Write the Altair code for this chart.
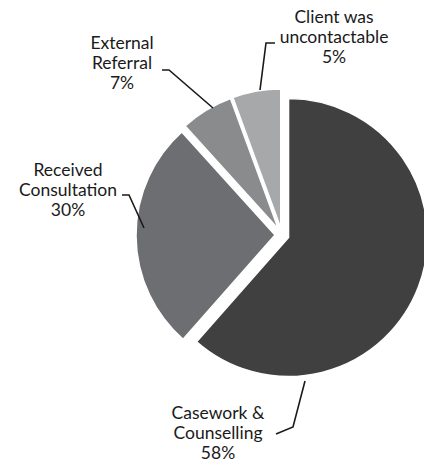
import altair as alt
import pandas as pd

# ---- data ----
categories = ["Casework & Counselling", "Received Consultation", "External Referral", "Client was uncontactable"]
label_lines = ["Casework &\nCounselling\n58%", "Received\nConsultation\n30%", "External\nReferral\n7%", "Client was\nuncontactable\n5%"]
# slice sizes as drawn (angular share, %)
shares = [61.5, 26.8, 6.1, 5.6]
order = [0, 1, 2, 3]
colors = ["#404040", "#6d6e71", "#8a8b8d", "#a7a8aa"]

# ---- layout (pixels) ----
W, H = 424, 463
CX, CY = 282.0, 235.0
EXPLODE = 7
R = 139

# centre of the first line of each label
label_x = [218, 68, 122, 334]
label_y = [414, 171, 44, 18]

leader_pts = {
    "Casework & Counselling": [(305, 381), (293, 427), (276, 434)],
    "Received Consultation": [(144, 228), (129, 195), (122, 195)],
    "External Referral": [(213, 108), (169, 70), (162, 70)],
    "Client was uncontactable": [(260, 90), (266, 43), (275, 43)],
}

pie_df = pd.DataFrame({"cat": categories, "share": shares, "order": order})
lab_df = pd.DataFrame({"cat": categories, "text": label_lines, "lx": label_x, "ly": label_y})
rows = []
for c, pts in leader_pts.items():
    for i, (px, py) in enumerate(pts):
        rows.append({"cat": c, "i": i, "px": px, "py": py})
lead_df = pd.DataFrame(rows)

xs = alt.Scale(domain=[0, W], range=[0, W])
ys = alt.Scale(domain=[0, H], range=[0, H])

pie = (
    alt.Chart(pie_df)
    .transform_joinaggregate(total="sum(share)")
    .transform_window(cum="sum(share)", sort=[alt.SortField("order")], frame=[None, 0])
    .transform_calculate(
        a1="datum.cum / datum.total * 2 * PI",
        a0="(datum.cum - datum.share) / datum.total * 2 * PI",
    )
    .transform_calculate(mid="(datum.a0 + datum.a1) / 2")
    .transform_calculate(
        cx=f"{CX} + {EXPLODE} * sin(datum.mid)",
        cy=f"{CY} - {EXPLODE} * cos(datum.mid)",
    )
    .mark_arc(radius=R, stroke="white", strokeWidth=1.5)
    .encode(
        x=alt.X("cx:Q", scale=xs, axis=None),
        y=alt.Y("cy:Q", scale=ys, axis=None),
        theta=alt.Theta("a0:Q", scale=None, stack=False),
        theta2=alt.Theta2("a1:Q"),
        color=alt.Color("cat:N", scale=alt.Scale(domain=categories, range=colors), legend=None),
    )
)

leaders = (
    alt.Chart(lead_df)
    .mark_line(color="#1a1a1a", strokeWidth=1.6)
    .encode(
        x=alt.X("px:Q", scale=xs, axis=None),
        y=alt.Y("py:Q", scale=ys, axis=None),
        detail="cat:N",
        order="i:Q",
    )
)

labels = (
    alt.Chart(lab_df)
    .mark_text(font="Lato", fontSize=17.5, lineHeight=20, align="center", baseline="middle",
               color="#1a1a1a", lineBreak="\n")
    .encode(
        x=alt.X("lx:Q", scale=xs, axis=None),
        y=alt.Y("ly:Q", scale=ys, axis=None),
        text="text:N",
    )
)

chart = (
    alt.layer(pie, leaders, labels)
    .properties(width=W, height=H, padding=0, autosize=alt.AutoSizeParams(type="none"))
    .configure_view(stroke=None)
)

chart.save("out.html", embed_options={"renderer": "svg", "actions": False})
